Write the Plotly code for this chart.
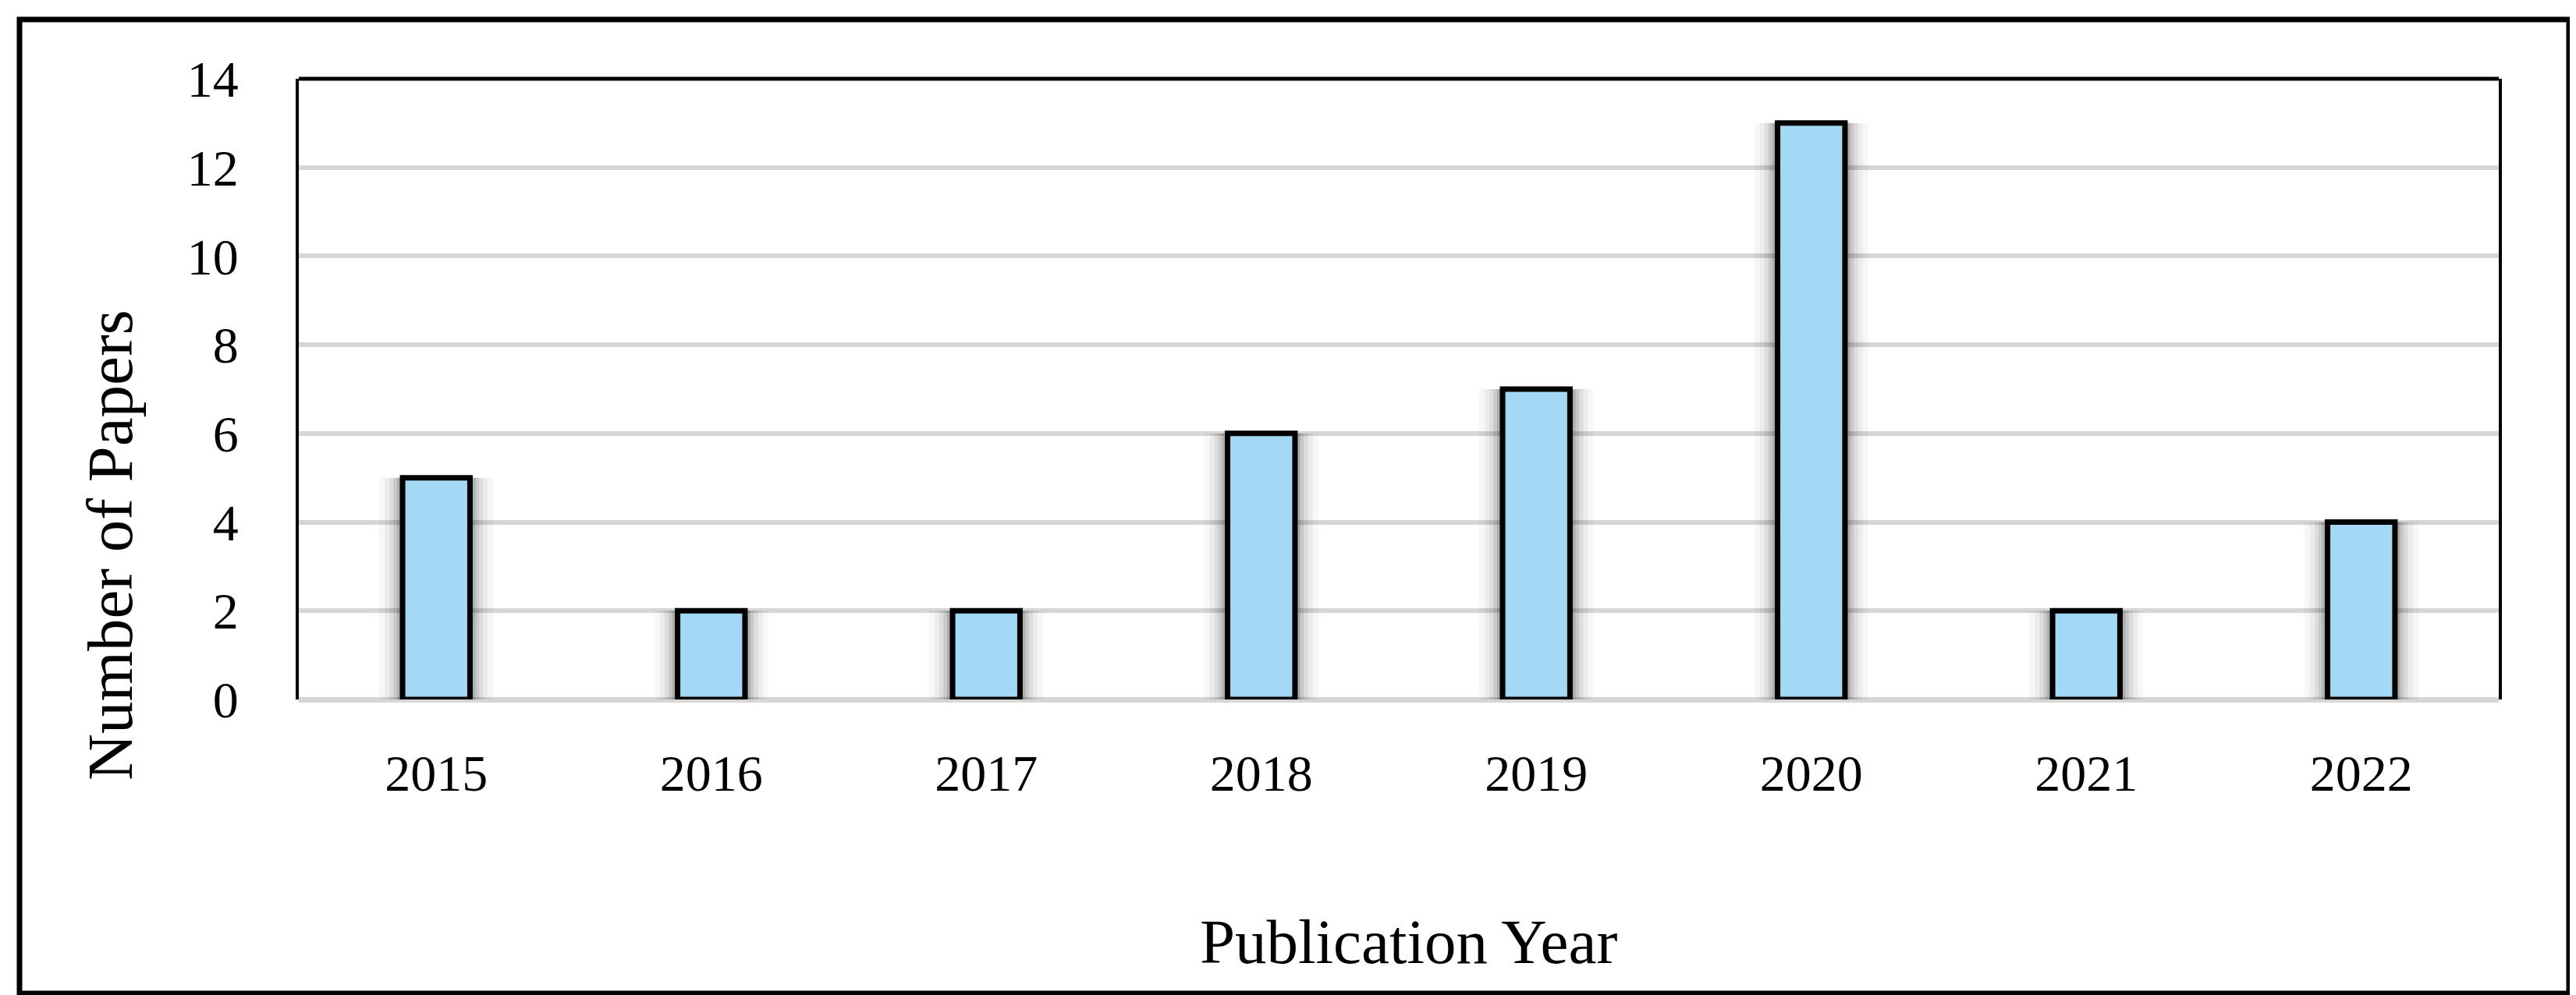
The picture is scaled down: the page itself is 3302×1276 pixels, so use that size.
import plotly.graph_objects as go

years = ["2015", "2016", "2017", "2018", "2019", "2020", "2021", "2022"]
papers = [5, 2, 2, 6, 7, 13, 2, 4]
y_ticks = [0, 2, 4, 6, 8, 10, 12, 14]

W, H = 3302, 1276
L, R, T, B = 375, 107, 93, 387
pw, ph = W - L - R, H - T - B

def px_x(p):
    return (p - L) / pw

def px_y(p):
    return (H - B - p) / ph

FONT = "Liberation Serif"
fig = go.Figure()

# soft shadow around bars (layered translucent bars)
for extra, op in [(0.17, 0.03), (0.13, 0.045), (0.095, 0.065), (0.065, 0.09), (0.04, 0.13), (0.02, 0.18)]:
    fig.add_trace(go.Bar(
        x=years, y=papers, width=0.245 + extra,
        marker=dict(color=f"rgba(0,0,0,{op})", line=dict(width=0)),
        hoverinfo="skip", showlegend=False,
    ))

fig.add_trace(go.Bar(
    x=years, y=papers, width=0.245,
    marker=dict(color="#A3D9F5", line=dict(color="black", width=7)),
    showlegend=False,
))

fig.update_layout(
    width=W, height=H,
    margin=dict(l=L, r=R, t=T, b=B),
    paper_bgcolor="white", plot_bgcolor="white",
    barmode="overlay",
    font=dict(family=FONT, color="black"),
    xaxis=dict(
        type="category", showgrid=False, showline=False, zeroline=False,
        ticks="outside", ticklen=37, tickcolor="rgba(0,0,0,0)",
        tickfont=dict(size=66, family=FONT, color="black"),
    ),
    yaxis=dict(
        range=[0, 14], tickvals=y_ticks, ticktext=[str(v) for v in y_ticks],
        showgrid=True, gridcolor="#d6d6d6", gridwidth=6,
        zeroline=True, zerolinecolor="#d6d6d6", zerolinewidth=7,
        showline=True, linecolor="black", linewidth=4, mirror=True,
        ticks="outside", ticklen=60, tickcolor="rgba(0,0,0,0)",
        tickfont=dict(size=66, family=FONT, color="black"),
    ),
    shapes=[
        dict(type="line", xref="paper", yref="paper", x0=0, x1=1, y0=1, y1=1,
             line=dict(color="black", width=5)),
        dict(type="rect", xref="paper", yref="paper",
             x0=px_x(17), x1=px_x(3285), y0=px_y(1266), y1=px_y(17),
             line=dict(color="black", width=7), fillcolor="rgba(0,0,0,0)"),
    ],
    annotations=[
        dict(text="Number of Papers", xref="paper", yref="paper",
             x=px_x(133), y=px_y(691), textangle=-90, showarrow=False,
             xanchor="center", yanchor="middle",
             font=dict(size=83, family=FONT, color="black")),
        dict(text="Publication Year", xref="paper", yref="paper",
             x=px_x(1798), y=px_y(1200), showarrow=False,
             xanchor="center", yanchor="middle",
             font=dict(size=81, family=FONT, color="black")),
    ],
)

fig.write_html("out.html")
